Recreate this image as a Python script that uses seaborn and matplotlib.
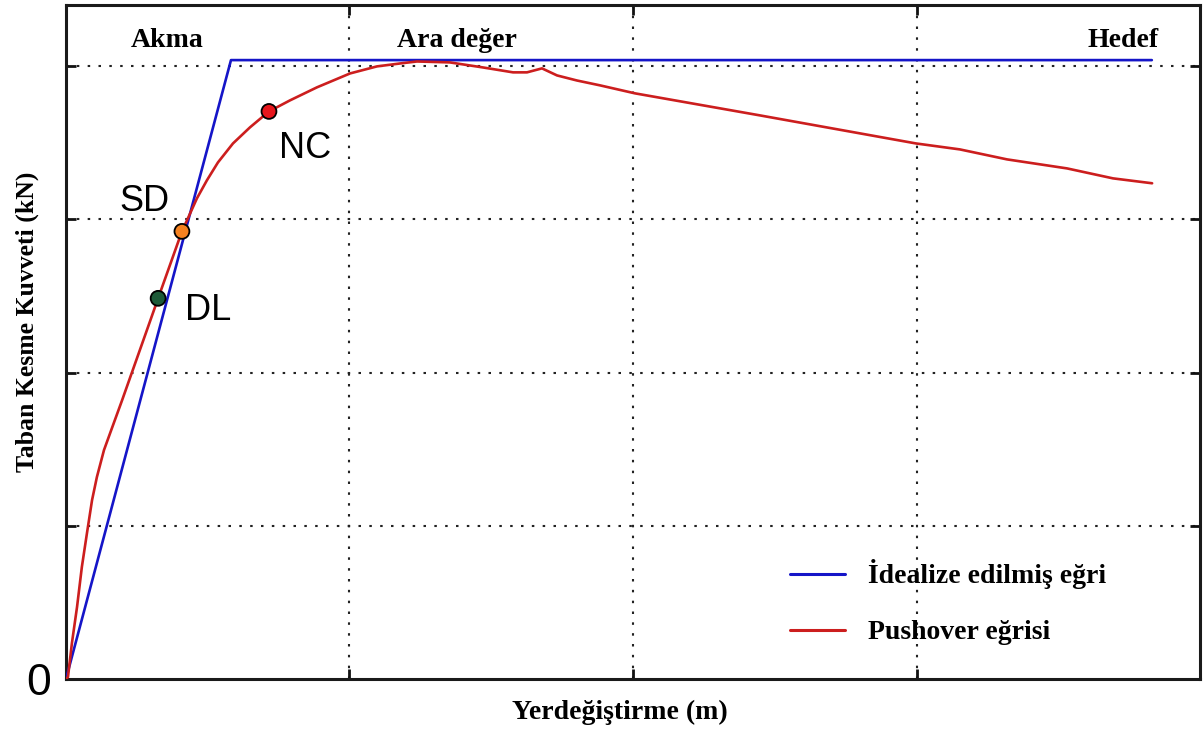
import numpy as np
import pandas as pd
import seaborn as sns
import matplotlib.pyplot as plt
from matplotlib.lines import Line2D

# idealize edilmiş (bilineer) eğri
ideal_x = [0.0, 0.582, 3.83]
ideal_y = [0.0, 4.04, 4.04]

# pushover eğrisi
push_x = [0.0, 0.007, 0.021, 0.039, 0.056, 0.074, 0.092, 0.109, 0.134, 0.162,
          0.198, 0.233, 0.289, 0.325, 0.409, 0.430, 0.462, 0.497, 0.536, 0.589,
          0.649, 0.716, 0.790, 0.885, 1.002, 1.097, 1.178, 1.238, 1.354, 1.471,
          1.577, 1.626, 1.679, 1.732, 1.802, 1.884, 2.007, 2.448, 2.998, 3.153,
          3.319, 3.531, 3.693, 3.831]
push_y = [0.0, 0.013, 0.235, 0.470, 0.731, 0.952, 1.168, 1.318, 1.494, 1.637,
          1.820, 2.003, 2.296, 2.485, 2.922, 3.007, 3.138, 3.255, 3.372, 3.496,
          3.601, 3.705, 3.777, 3.862, 3.953, 3.999, 4.018, 4.031, 4.025, 3.992,
          3.960, 3.960, 3.986, 3.940, 3.907, 3.875, 3.823, 3.679, 3.496, 3.457,
          3.392, 3.333, 3.268, 3.236]

# performans noktaları
perf_names = ["DL", "SD", "NC"]
perf_x = [0.325, 0.409, 0.716]
perf_y = [2.485, 2.922, 3.705]
perf_colors = ["#1d5a38", "#f58220", "#e8161c"]

levels = ["Akma", "Ara değer", "Hedef"]
levels_x = [0.356, 1.379, 3.73]

sns.set_theme(style="white")
plt.rcParams['font.family'] = ['Liberation Serif', 'DejaVu Serif']
plt.rcParams['text.color'] = 'black'

df_ideal = pd.DataFrame({"x": ideal_x, "y": ideal_y})
df_push = pd.DataFrame({"x": push_x, "y": push_y})
df_perf = pd.DataFrame({"x": perf_x, "y": perf_y, "name": perf_names})

fig = plt.figure(figsize=(12.04, 7.29), dpi=100)
ax = fig.add_axes([0.0548, 0.0686, 0.9419, 0.9246])

blue = "#1515c8"
red = "#cc1e1e"
sns.lineplot(data=df_ideal, x="x", y="y", ax=ax, color=blue, linewidth=1.9,
             sort=False, estimator=None, zorder=3)
sns.lineplot(data=df_push, x="x", y="y", ax=ax, color=red, linewidth=1.9,
             sort=False, estimator=None, zorder=4)
sns.scatterplot(data=df_perf, x="x", y="y", hue="name", palette=perf_colors,
                s=115, edgecolor="black", linewidth=1.3, ax=ax, legend=False,
                zorder=5)

# nokta etiketleri
offsets = {"DL": (50, -12), "SD": (-37, 30), "NC": (36, -37)}
for n, x, y in zip(perf_names, perf_x, perf_y):
    ax.annotate(n, (x, y), xytext=offsets[n], textcoords="offset pixels",
                ha="center", va="center", fontsize=26, family="Liberation Sans")

for t, x in zip(levels, levels_x):
    ax.text(x, 4.17, t, ha="center", va="center", fontsize=20, fontweight="bold")

ax.set_xlim(0, 4)
ax.set_ylim(0, 4.4)
ax.set_xticks([1, 2, 3])
ax.set_yticks([1, 2, 3, 4])
ax.set_xticklabels([])
ax.set_yticklabels([])
ax.tick_params(direction="in", length=7, width=2, color="#111111",
               top=True, right=True, bottom=True, left=True)
ax.grid(True, color="#222222", linestyle=(0, (1.2, 4)), linewidth=1.5)
for s in ax.spines.values():
    s.set_linewidth(2.2)
    s.set_color("#1a1a1a")

ax.text(-0.095, -0.03, "0", ha="center", va="center", fontsize=32,
        family="Liberation Sans", transform=ax.transData, clip_on=False)

ax.set_xlabel("Yerdeğiştirme (m)", fontsize=20, fontweight="bold", color="black")
ax.set_ylabel("Taban Kesme Kuvveti (kN)", fontsize=18.5, fontweight="bold", color="black")
ax.xaxis.set_label_coords(0.4885, -0.031)
ax.yaxis.set_label_coords(-0.024, 0.53)

handles = [Line2D([], [], color=blue, linewidth=2.2),
           Line2D([], [], color=red, linewidth=2.2)]
ax.legend(handles, ["İdealize edilmiş eğri", "Pushover eğrisi"],
          loc="center left", bbox_to_anchor=(0.638, 0.1135), frameon=False,
          borderpad=0, borderaxespad=0, handlelength=2.0, handletextpad=0.83,
          labelspacing=1.1, prop={"size": 20, "weight": "bold"})

fig.savefig("out.png", dpi=100)
